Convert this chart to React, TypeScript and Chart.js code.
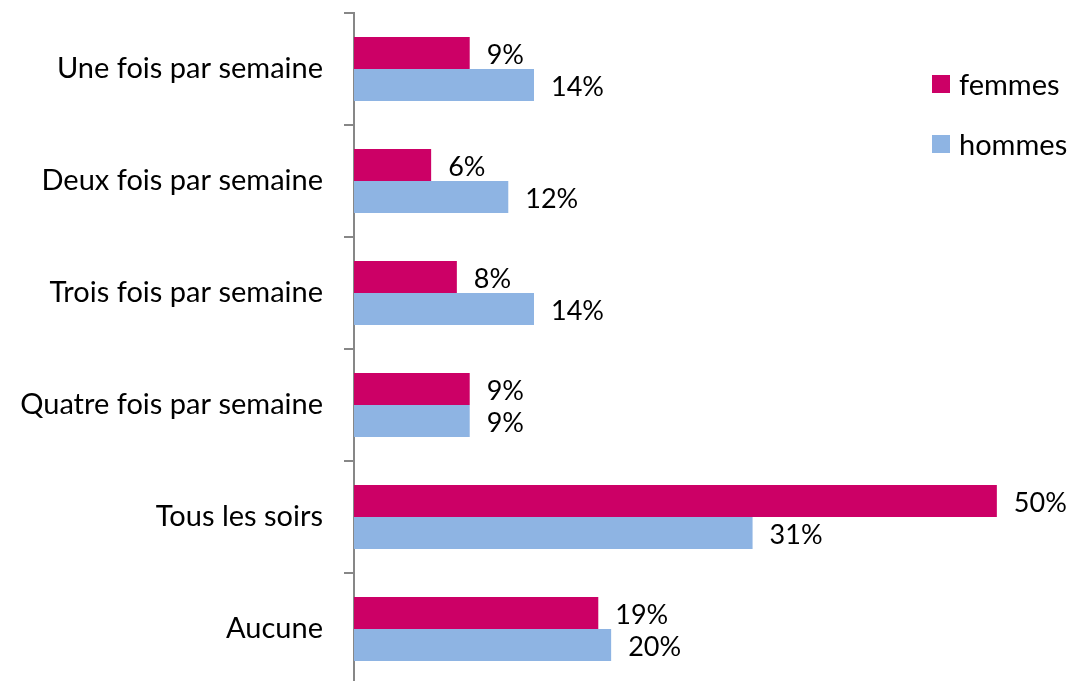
import React, { useEffect, useRef } from "react";
import { Chart, registerables } from "chart.js";

Chart.register(...registerables);

const categories = [
  "Une fois par semaine",
  "Deux fois par semaine",
  "Trois fois par semaine",
  "Quatre fois par semaine",
  "Tous les soirs",
  "Aucune",
];
const femmes = [9, 6, 8, 9, 50, 19];
const hommes = [14, 12, 14, 9, 31, 20];
const seriesNames = ["femmes", "hommes"];
const seriesColors = ["#CC0066", "#8EB4E3"];

const FONT = "Lato, 'Open Sans', sans-serif";

const labelPlugin = {
  id: "barLabels",
  afterDatasetsDraw(chart: any) {
    const ctx = chart.ctx;
    ctx.save();
    ctx.font = `27px ${FONT}`;
    ctx.fillStyle = "#000";
    ctx.textAlign = "left";
    ctx.textBaseline = "middle";
    chart.data.datasets.forEach((ds: any, di: number) => {
      const meta = chart.getDatasetMeta(di);
      meta.data.forEach((bar: any, i: number) => {
        ctx.fillText(`${ds.data[i]}%`, bar.x + 17, bar.y + 2);
      });
    });
    ctx.restore();
  },
};

export default function App() {
  const ref = useRef<HTMLCanvasElement>(null);
  useEffect(() => {
    const chart = new Chart(ref.current!, {
      type: "bar",
      data: {
        labels: categories,
        datasets: [
          { label: seriesNames[0], data: femmes, backgroundColor: seriesColors[0] },
          { label: seriesNames[1], data: hommes, backgroundColor: seriesColors[1] },
        ],
      },
      options: {
        indexAxis: "y",
        animation: false,
        responsive: false,
        layout: { padding: { top: 13, right: 0, bottom: 0, left: 0 } },
        datasets: { bar: { categoryPercentage: 0.571, barPercentage: 1 } },
        plugins: { legend: { display: false }, tooltip: { enabled: false } },
        scales: {
          x: { display: false, min: 0, max: 56 },
          y: {
            afterFit: (s: any) => {
              s.width = 354;
              s.paddingTop = 0;
              s.paddingBottom = 0;
            },
            grid: {
              offset: true,
              drawOnChartArea: false,
              drawTicks: true,
              tickLength: 10,
              color: "#878787",
              lineWidth: 2,
            },
            border: { display: true, color: "#878787", width: 2 },
            ticks: {
              color: "#000",
              padding: 21,
              font: { family: FONT, size: 29 },
            },
          },
        },
      },
      plugins: [labelPlugin],
    });
    return () => chart.destroy();
  }, []);

  const legendItem = (i: number, top: number) => (
    <div
      key={i}
      style={{
        position: "absolute",
        left: 932,
        top,
        height: 30,
        display: "flex",
        alignItems: "center",
        fontFamily: FONT,
        fontSize: 29,
        lineHeight: "30px",
        color: "#000",
        whiteSpace: "nowrap",
      }}
    >
      <span
        style={{
          display: "inline-block",
          width: 18,
          height: 18,
          background: seriesColors[i],
          marginRight: 9,
        }}
      />
      <span>{seriesNames[i]}</span>
    </div>
  );

  return (
    <div
      style={{
        position: "fixed",
        left: 0,
        top: 0,
        width: 1074,
        height: 681,
        overflow: "hidden",
        background: "#fff",
      }}
    >
      <canvas ref={ref} width={1074} height={685} style={{ display: "block" }} />
      {legendItem(0, 69)}
      {legendItem(1, 129)}
    </div>
  );
}
